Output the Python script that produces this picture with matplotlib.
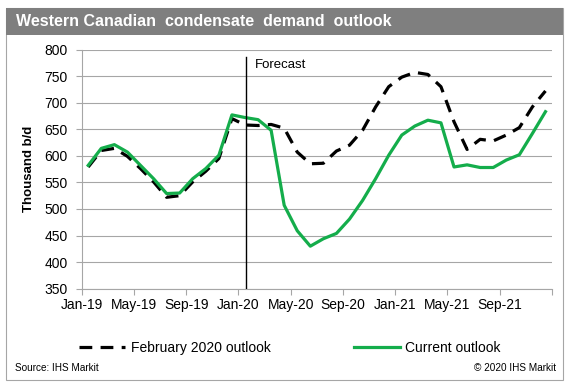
import matplotlib
matplotlib.use("Agg")
import matplotlib.pyplot as plt
from matplotlib.patches import Rectangle
from matplotlib.lines import Line2D

plt.rcParams['font.family'] = ['Liberation Sans', 'DejaVu Sans']

months = ["Jan-19","Feb-19","Mar-19","Apr-19","May-19","Jun-19","Jul-19","Aug-19","Sep-19","Oct-19","Nov-19","Dec-19",
          "Jan-20","Feb-20","Mar-20","Apr-20","May-20","Jun-20","Jul-20","Aug-20","Sep-20","Oct-20","Nov-20","Dec-20",
          "Jan-21","Feb-21","Mar-21","Apr-21","May-21","Jun-21","Jul-21","Aug-21","Sep-21","Oct-21","Nov-21","Dec-21"]
feb2020 = [579, 610, 614, 599, 576, 551, 522, 525, 551, 571, 595, 670,
           658, 657, 659, 652, 607, 585, 586, 609, 620, 648, 692, 730,
           748, 757, 753, 730, 664, 612, 631, 628, 639, 653, 692, 722]
current = [582, 614, 621, 607, 582, 557, 529, 530, 557, 576, 601, 677,
           672, 668, 648, 507, 459, 430, 444, 454, 481, 516, 557, 601,
           639, 656, 667, 662, 579, 583, 578, 578, 592, 602, 642, 683]
tick_labels = ["Jan-19","May-19","Sep-19","Jan-20","May-20","Sep-20","Jan-21","May-21","Sep-21"]
yticks = [350, 400, 450, 500, 550, 600, 650, 700, 750, 800]

W, H = 569, 386
fig = plt.figure(figsize=(W/100, H/100), dpi=100)
GREEN = '#14AD4B'
DASH = (4.0, 2.6)

# outer border
fig.add_artist(Rectangle((6/W, 1-380/H), (563-6)/W, (380-8)/H, transform=fig.transFigure,
                         facecolor='white', edgecolor='#a6a6a6', lw=0.8, zorder=0))
# title bar
fig.add_artist(Rectangle((6/W, 1-35/H), (563-6)/W, (35-8)/H, transform=fig.transFigure,
                         facecolor='#7f7f7f', edgecolor='none', zorder=1))
fig.text(16/W, 1-22/H, "Western Canadian  condensate  demand  outlook", color='white',
         fontsize=11.5, fontweight='bold', va='center', ha='left')

ax = fig.add_axes([81.7/W, 1-288.7/H, (552-81.7)/W, (288.7-49.5)/H])
x = list(range(len(months)))
ax.plot(x, feb2020, color='black', lw=2.3, dashes=DASH, zorder=3)
ax.plot(x, current, color=GREEN, lw=2.3, zorder=4)

ax.set_xlim(-0.5, len(months) - 0.5)
ax.set_ylim(350, 800)
ax.set_yticks(yticks)
ax.set_yticklabels([str(v) for v in yticks], fontsize=10)
ax.set_xticks([i - 0.5 for i in range(0, 36, 4)] + [35.5])
ax.set_xticklabels(tick_labels + [""], fontsize=10)
ax.grid(axis='y', color='#a6a6a6', lw=0.8)
ax.set_axisbelow(True)
for s in ['top', 'right']:
    ax.spines[s].set_visible(False)
ax.spines['left'].set_color('#a6a6a6')
ax.spines['bottom'].set_color('#a6a6a6')
ax.tick_params(axis='y', length=4, color='#a6a6a6', pad=6)
ax.tick_params(axis='x', length=4, color='#a6a6a6', pad=3)
ax.set_ylabel("Thousand b/d", fontsize=9.5, fontweight='bold', labelpad=7)

# forecast line
ax.plot([12.05, 12.05], [350, 786], color='black', lw=1.0, zorder=5)
ax.text(12.75, 771, "Forecast", fontsize=9.5, va='center', ha='left')

# legend
handles = [Line2D([0], [0], color='black', lw=2.3, dashes=DASH),
           Line2D([0], [0], color=GREEN, lw=2.3)]
fig.legend(handles, ["February 2020 outlook", "Current outlook"], loc='center',
           bbox_to_anchor=(0.51, 1-348/H), ncol=2, frameon=False, fontsize=10,
           handlelength=3.3, columnspacing=6.0, handletextpad=0.4)

fig.text(15/W, 1-368/H, "Source: IHS Markit", fontsize=7.2, va='center', ha='left')
fig.text(556/W, 1-368/H, "\u00a9 2020 IHS Markit", fontsize=7.2, va='center', ha='right')

fig.savefig("out.png", dpi=100)
